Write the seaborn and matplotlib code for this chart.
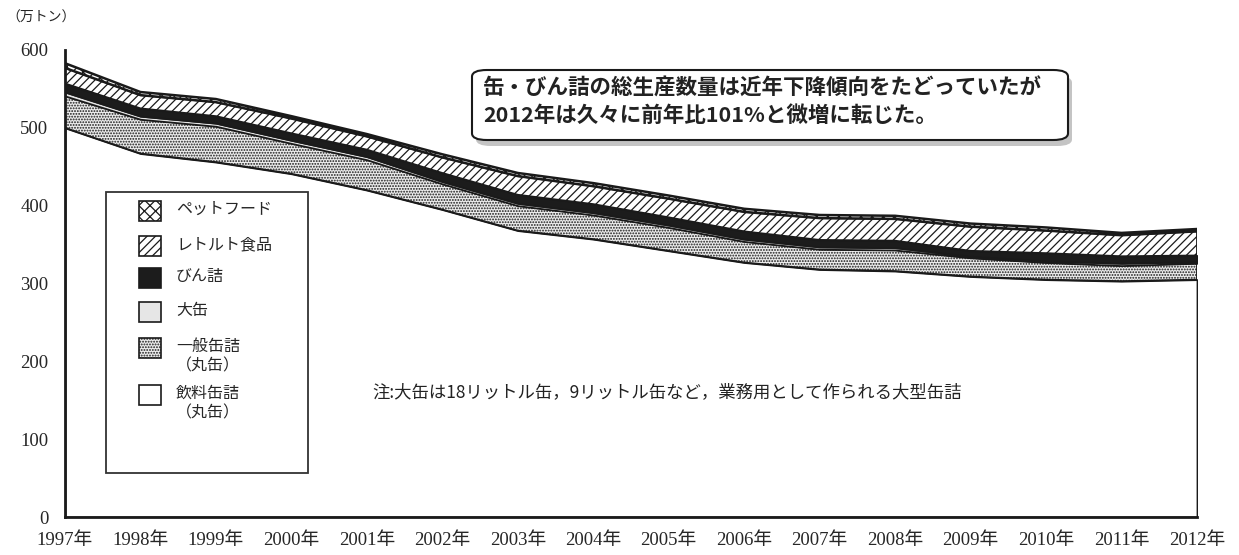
import matplotlib.pyplot as plt
import seaborn as sns
from matplotlib.patches import Rectangle, FancyBboxPatch

# data (万トン), bottom layer first
years = list(range(1997, 2013))
year_labels = [f"{y}年" for y in years]

beverage = [500, 467, 456, 441, 420, 395, 368, 357, 342, 327, 318, 316, 309, 305, 303, 305]
general = [41, 44, 46, 39, 39, 33, 32, 31, 30, 27, 26, 27, 24, 22, 20, 21]
large = [5, 4, 4, 4, 4, 3, 3, 3, 3, 3, 3, 3, 2, 2, 3, 2]
bottled = [11, 10, 9, 9, 9, 11, 11, 11, 10, 10, 9, 9, 7, 10, 9, 8]
retort = [20, 17, 18, 19, 17, 20, 24, 23, 24, 25, 28, 28, 31, 29, 27, 31]
petfood = [6, 4, 4, 3, 3, 4, 4, 4, 4, 4, 4, 4, 4, 4, 3, 3]

series_names = ["飲料缶詰\n（丸缶）", "一般缶詰\n（丸缶）", "大缶", "びん詰", "レトルト食品", "ペットフード"]
y_ticks = [0, 100, 200, 300, 400, 500, 600]

# styles
face_colors = ["white", "#ececec", "#e6e6e6", "#1c1c1c", "white", "white"]
hatches = [None, "......", None, None, "////", "xxx"]

sns.set_style("white")
plt.rcParams["font.family"] = ["Liberation Serif", "Noto Sans CJK JP"]
plt.rcParams["hatch.linewidth"] = 0.9
jp = ["Noto Sans CJK JP", "DejaVu Sans"]

fig = plt.figure(figsize=(12.39, 5.55), dpi=100)
ax = fig.add_axes([65 / 1239, 38 / 555, 1132 / 1239, 467 / 555])

layers = ax.stackplot(years, beverage, general, large, bottled, retort, petfood,
                      colors=face_colors, edgecolor="#1a1a1a", linewidth=1.3)
for poly, h in zip(layers, hatches):
    if h:
        poly.set_hatch(h)
# heavier outline along the top of the stack
layers[-1].set_linewidth(1.8)

ax.set_xlim(1997, 2012)
ax.set_ylim(0, 600)
ax.set_xticks(years)
ax.set_xticklabels(year_labels, fontsize=13.5)
ax.set_yticks(y_ticks)
ax.set_yticklabels([str(v) for v in y_ticks], fontsize=13.5)
ax.tick_params(direction="in", length=7, width=1.5, color="#1a1a1a")
ax.tick_params(axis="x", pad=11)
ax.tick_params(axis="y", pad=12)
sns.despine(ax=ax)
for side in ["left", "bottom"]:
    ax.spines[side].set_linewidth(2)
    ax.spines[side].set_color("#1a1a1a")

# unit label
fig.text(6 / 1239, 1 - 18 / 555, "（万トン）", fontsize=10, family=jp, va="center")

# legend drawn by hand (handles sit on the first line of each label)
def px(x, y):
    return x / 1239, 1 - y / 555

x0, y0 = px(106, 473)
x1, y1 = px(308, 192)
fig.patches.append(Rectangle((x0, y0), x1 - x0, y1 - y0, transform=fig.transFigure,
                             facecolor="white", edgecolor="#333333", linewidth=1.3, zorder=3))
entry_y = [395, 348, 312, 278, 246, 211]
for name, fc, h, ey in zip(series_names, face_colors, hatches, entry_y):
    bx, by = px(139, ey + 10)
    fig.patches.append(Rectangle((bx, by), 22 / 1239, 20 / 555, transform=fig.transFigure,
                                 facecolor=fc, edgecolor="#1a1a1a", linewidth=1.2,
                                 hatch=h, zorder=4))
    tx, ty = px(176, ey - 10)
    fig.text(tx, ty, name, fontsize=11.5, family=jp, va="top", linespacing=1.2, zorder=5)

# note
fig.text(372 / 1239, 1 - 392 / 555, "注:大缶は18リットル缶，9リットル缶など，業務用として作られる大型缶詰",
         fontsize=12.5, family=jp, va="center", color="#222222")

# callout box with shadow
bx0, by0 = px(472, 140)
bx1, by1 = px(1068, 70)
shadow = FancyBboxPatch((bx0 + 4 / 1239, by0 - 6 / 555), bx1 - bx0, by1 - by0,
                        boxstyle="round,pad=0,rounding_size=0.012", transform=fig.transFigure,
                        facecolor="#c4c4c4", edgecolor="none", zorder=5)
box = FancyBboxPatch((bx0, by0), bx1 - bx0, by1 - by0,
                     boxstyle="round,pad=0,rounding_size=0.012", transform=fig.transFigure,
                     facecolor="white", edgecolor="#1a1a1a", linewidth=1.5, zorder=6)
fig.patches.extend([shadow, box])
fig.text(483 / 1239, 1 - 88 / 555, "缶・びん詰の総生産数量は近年下降傾向をたどっていたが",
         fontsize=15.5, family=jp, weight="bold", va="center", color="#222222", zorder=7)
fig.text(483 / 1239, 1 - 115 / 555, "2012年は久々に前年比101%と微増に転じた。",
         fontsize=15.5, family=jp, weight="bold", va="center", color="#222222", zorder=7)

fig.savefig("out.png", dpi=100)
